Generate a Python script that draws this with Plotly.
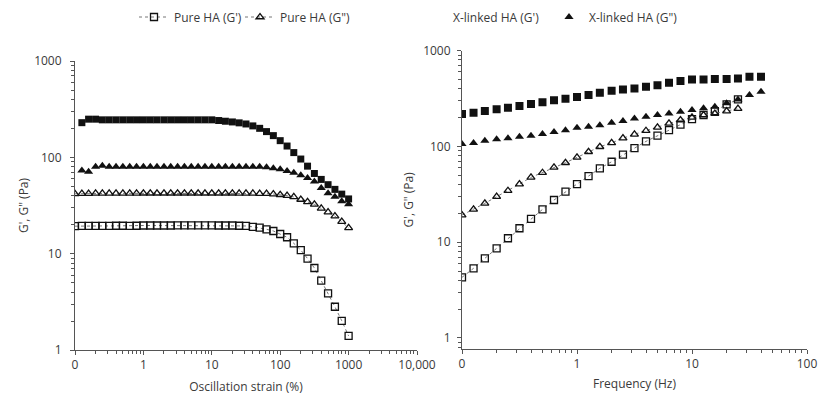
import plotly.graph_objects as go

# ---------------- Data ----------------
# Left panel: strain sweep
strain_pure = [0.1, 0.126, 0.158, 0.2, 0.251, 0.316, 0.398, 0.501, 0.631, 0.794,
               1, 1.26, 1.58, 2, 2.51, 3.16, 3.98, 5.01, 6.31, 7.94,
               10, 12.6, 15.8, 20, 25.1, 31.6, 39.8, 50.1, 63.1, 79.4,
               100, 126, 158, 200, 251, 316, 398, 501, 631, 794, 1000]
pure_gp_strain = [19.3, 19.4, 19.4, 19.4, 19.4, 19.4, 19.5, 19.5, 19.4, 19.5,
                  19.6, 19.6, 19.6, 19.6, 19.6, 19.7, 19.7, 19.7, 19.7, 19.7,
                  19.7, 19.6, 19.6, 19.6, 19.5, 19.4, 19.0, 18.6, 17.9, 17.2,
                  16.0, 14.8, 12.8, 10.9, 8.9, 7.1, 5.25, 3.88, 2.81, 2.01, 1.40]
pure_gpp_strain = [41.8, 42.0, 42.1, 42.2, 42.2, 42.3, 42.3, 42.3, 42.3, 42.3,
                   42.4, 42.4, 42.4, 42.4, 42.4, 42.4, 42.4, 42.4, 42.4, 42.4,
                   42.4, 42.4, 42.4, 42.4, 42.3, 42.3, 42.2, 42.1, 42.0, 41.6,
                   40.9, 40.0, 38.8, 36.5, 34.5, 32.5, 29.5, 27.0, 24.5, 21.5, 18.5]

strain_xl = [0.126, 0.158, 0.2, 0.251, 0.316, 0.398, 0.501, 0.631, 0.794,
             1, 1.26, 1.58, 2, 2.51, 3.16, 3.98, 5.01, 6.31, 7.94,
             10, 12.6, 15.8, 20, 25.1, 31.6, 39.8, 50.1, 63.1, 79.4,
             100, 126, 158, 200, 251, 316, 398, 501, 631, 794, 1000]
xl_gp_strain = [229, 249, 249, 245, 245, 245, 245, 245, 245,
                245, 245, 245, 245, 245, 245, 245, 245, 245, 245,
                245, 241, 237, 233, 228, 222, 212, 200, 185, 168,
                149, 131, 112, 96, 81, 68, 59, 52, 46.5, 41.5, 37]
xl_gpp_strain = [73, 71, 80, 82, 80, 80, 80, 80, 80,
                 80, 80, 80, 80, 80, 80, 80, 80, 80, 80,
                 80, 80, 80, 80, 80, 80, 80, 80, 79, 77,
                 75, 72, 69, 65, 61, 56, 48, 42.5, 39, 35, 32.5]

# Right panel: frequency sweep
freq_pure = [0.1, 0.126, 0.158, 0.2, 0.251, 0.316, 0.398, 0.501, 0.631, 0.794,
             1, 1.26, 1.58, 2, 2.51, 3.16, 3.98, 5.01, 6.31, 7.94,
             10, 12.6, 15.8, 20, 25.1]
pure_gp_freq = [4.3, 5.34, 6.79, 8.64, 11.0, 14.0, 17.5, 22.0, 27.6, 33.7,
                40.5, 49.1, 59.1, 69.2, 82, 96, 113, 130, 148, 169,
                193, 213, 234, 275, 310]
pure_gpp_freq = [19.2, 22.0, 25.5, 29.9, 34.5, 40.5, 47.6, 53.2, 60.5, 67.6,
                 76.9, 88.1, 99.3, 109, 122, 134, 146, 158, 174, 189,
                 201, 213, 221, 234, 248]

freq_xl = [0.1, 0.126, 0.158, 0.2, 0.251, 0.316, 0.398, 0.501, 0.631, 0.794,
           1, 1.26, 1.58, 2, 2.51, 3.16, 3.98, 5.01, 6.31, 7.94,
           10, 12.6, 15.8, 20, 25.1, 31.6, 39.8]
xl_gp_freq = [218, 225, 234, 244, 254, 264, 277, 289, 303, 315,
              328, 344, 364, 382, 394, 404, 420, 437, 462, 482,
              501, 501, 506, 506, 514, 534, 534]
xl_gpp_freq = [106, 109, 115, 119, 122, 126, 129, 135, 142, 148,
               157, 161, 167, 177, 185, 196, 204, 213, 221, 230,
               240, 250, 260, 282, 310, 344, 373]

# Tick labels
strain_tickvals = [0.1, 1, 10, 100, 1000, 10000]
strain_ticktext = ["0", "1", "10", "100", "1000", "10,000"]
freq_tickvals = [0.1, 1, 10, 100]
freq_ticktext = ["0", "1", "10", "100"]
y_tickvals = [1, 10, 100, 1000]
y_ticktext = ["1", "10", "100", "1000"]

series_names = ["Pure HA (G')", "Pure HA (G\")", "X-linked HA (G')", "X-linked HA (G\")"]

# ---------------- Styling ----------------
FONT = "Open Sans"
TXT = "#3a3a3a"
AX = "#555555"
BLK = "#111111"
LINE_GREY = "#777777"

def minor_vals(decades):
    return [m * d for d in decades for m in range(2, 10)]

fig = go.Figure()

def open_series(x, y, sym, name, xa, ya, legend, show):
    fig.add_trace(go.Scatter(
        x=x, y=y, mode="lines+markers", name=name,
        line=dict(color=LINE_GREY, width=1, dash="dot"),
        marker=dict(symbol=sym, size=7, color=BLK, line=dict(width=1.3, color=BLK)),
        xaxis=xa, yaxis=ya, legend=legend, showlegend=show))

def filled_series(x, y, sym, name, xa, ya, legend, show, size):
    fig.add_trace(go.Scatter(
        x=x, y=y, mode="markers", name=name,
        marker=dict(symbol=sym, size=size, color=BLK, line=dict(width=0)),
        xaxis=xa, yaxis=ya, legend=legend, showlegend=show))

# left panel
open_series(strain_pure, pure_gp_strain, "square-open", series_names[0], "x", "y", "legend", True)
open_series(strain_pure, pure_gpp_strain, "triangle-up-open", series_names[1], "x", "y", "legend2", True)
filled_series(strain_xl, xl_gp_strain, "square", series_names[2], "x", "y", "legend3", False, 7)
filled_series(strain_xl, xl_gpp_strain, "triangle-up", series_names[3], "x", "y", "legend4", True, 8)
# right panel
open_series(freq_pure, pure_gp_freq, "square-open", series_names[0], "x2", "y2", "legend", False)
open_series(freq_pure, pure_gpp_freq, "triangle-up-open", series_names[1], "x2", "y2", "legend2", False)
filled_series(freq_xl, xl_gp_freq, "square", series_names[2], "x2", "y2", "legend3", False, 8)
filled_series(freq_xl, xl_gpp_freq, "triangle-up", series_names[3], "x2", "y2", "legend4", False, 8)

# legend entry for X-linked G' (shown without a symbol, as in the reference)
fig.add_trace(go.Scatter(x=[None], y=[None], mode="markers", name=series_names[2],
                         marker=dict(symbol="square", size=7, color="rgba(0,0,0,0)"),
                         xaxis="x", yaxis="y", legend="legend3", showlegend=True))

W, H = 819, 400
def px_x(p): return p / W
def px_y(p): return 1 - p / H

tickfont = dict(family=FONT, size=12, color=TXT)
titlefont = dict(family=FONT, size=12, color=TXT)

def axis(**kw):
    d = dict(type="log", showgrid=False, zeroline=False, showline=True, linecolor=AX,
             linewidth=1, ticks="outside", ticklen=4, tickcolor=AX, tickfont=tickfont,
             automargin=False)
    d.update(kw)
    return d

def legend_at(xpx):
    return dict(x=px_x(xpx), y=px_y(17), xanchor="left", yanchor="middle",
                orientation="h", font=dict(family=FONT, size=12, color=TXT),
                bgcolor="rgba(0,0,0,0)", itemwidth=30, tracegroupgap=0)

fig.update_layout(
    width=W, height=H, margin=dict(l=0, r=0, t=0, b=0, autoexpand=False),
    paper_bgcolor="white", plot_bgcolor="white",
    font=dict(family=FONT, color=TXT),
    xaxis=axis(domain=[px_x(75), px_x(417)], range=[-1, 4], anchor="y",
               tickvals=strain_tickvals, ticktext=strain_ticktext,
               minor=dict(ticks="outside", ticklen=3, tickcolor=AX, showgrid=False,
                          tickvals=minor_vals([0.1, 1, 10, 100, 1000])),
               title=dict(text="Oscillation strain (%)", font=titlefont, standoff=10)),
    yaxis=axis(domain=[px_y(350), px_y(61)], range=[0, 3], anchor="x",
               tickvals=y_tickvals, ticktext=y_ticktext, ticklabelstandoff=6,
               minor=dict(ticks="outside", ticklen=3, tickcolor=AX, showgrid=False,
                          tickvals=minor_vals([1, 10, 100])),
               title=dict(text="G', G\" (Pa)", font=titlefont, standoff=2)),
    xaxis2=axis(domain=[px_x(462), px_x(807)], range=[-1, 2], anchor="y2",
                tickvals=freq_tickvals, ticktext=freq_ticktext,
                minor=dict(ticks="outside", ticklen=3, tickcolor=AX, showgrid=False,
                           tickvals=minor_vals([0.1, 1, 10])),
                title=dict(text="Frequency (Hz)", font=titlefont, standoff=8)),
    yaxis2=axis(domain=[px_y(349), px_y(50.7)], range=[-0.115, 3], anchor="x2",
                tickvals=y_tickvals, ticktext=y_ticktext, ticklabelstandoff=4,
                minor=dict(ticks="outside", ticklen=3, tickcolor=AX, showgrid=False,
                           tickvals=minor_vals([0.1, 1, 10, 100])),
                title=dict(text="G', G\" (Pa)", font=titlefont, standoff=6)),
    legend=legend_at(134),
    legend2=legend_at(240),
    legend3=legend_at(413),
    legend4=legend_at(549),
)

# remove the browser's default 8px body margin so the 819x400 figure fills the window
fig.write_html("out.html", config={"displayModeBar": False},
               post_script="document.body.style.margin='0';")
